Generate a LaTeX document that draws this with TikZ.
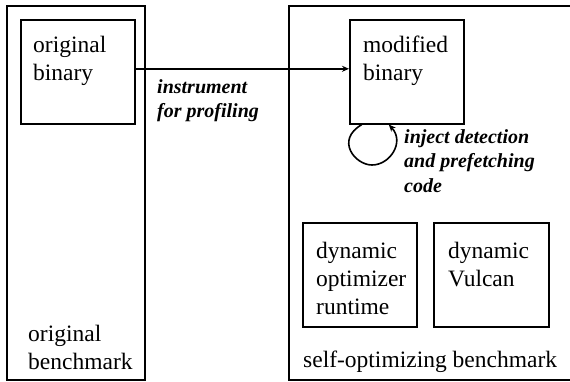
\documentclass[tikz,border=0pt]{standalone}
\usepackage{fontspec}
\setmainfont{Liberation Serif}
\usetikzlibrary{arrows.meta}
\begin{document}
\begin{tikzpicture}[x=1pt,y=-1pt,
  box/.style={draw,line width=1.6pt,inner sep=0pt},
  body/.style={inner sep=0pt,anchor=north west,align=left,font=\fontsize{23.5}{28}\selectfont},
  lbl/.style={inner sep=0pt,anchor=north west,align=left,font=\fontsize{20}{24.5}\selectfont\bfseries\itshape},
  arr/.style={line width=1.6pt,-{Stealth[length=7pt,width=6pt]}}]
\useasboundingbox (0,0) rectangle (570,381);
% outer containers
\draw[line width=1.6pt] (7,6) rectangle (145,380);
\draw[line width=1.6pt] (580,6) -- (289,6) -- (289,380) -- (580,380);
% inner boxes
\node[box,minimum width=114pt,minimum height=104pt,anchor=north west] (ob) at (20,19) {};
\node[box,minimum width=114pt,minimum height=104pt,anchor=north west] (mb) at (349,19) {};
\node[box,minimum width=114pt,minimum height=104pt,anchor=north west] (dor) at (302,222) {};
\node[box,minimum width=115pt,minimum height=104pt,anchor=north west] (vul) at (433,222) {};
% texts
\node[body] (tob) at (33,36) {original\\binary};
\node[body] (tmb) at (363,36) {modified\\binary};
\node[body] (tdor) at (316,242) {dynamic\\optimizer\\runtime};
\node[body] (tvul) at (448,242) {dynamic\\Vulcan};
\node[body] (tobm) at (28,325) {original\\benchmark};
\node[body] (tsob) at (303,351) {self-optimizing benchmark};
% connectors
\draw[arr] ([yshift=3pt]ob.east) -- ([yshift=3pt]mb.west);
\node[lbl] (linst) at (157,79) {instrument\\for profiling};
\coordinate (lb) at (372,165);
\draw[arr] ([xshift=-45pt]mb.south) .. controls (335,140) and (355,165) .. (lb)
  .. controls (390,165) and (405,142) .. ([xshift=-18pt]mb.south);
\node[lbl] (linj) at (404,129) {inject detection\\and prefetching\\code};
\end{tikzpicture}
\end{document}
